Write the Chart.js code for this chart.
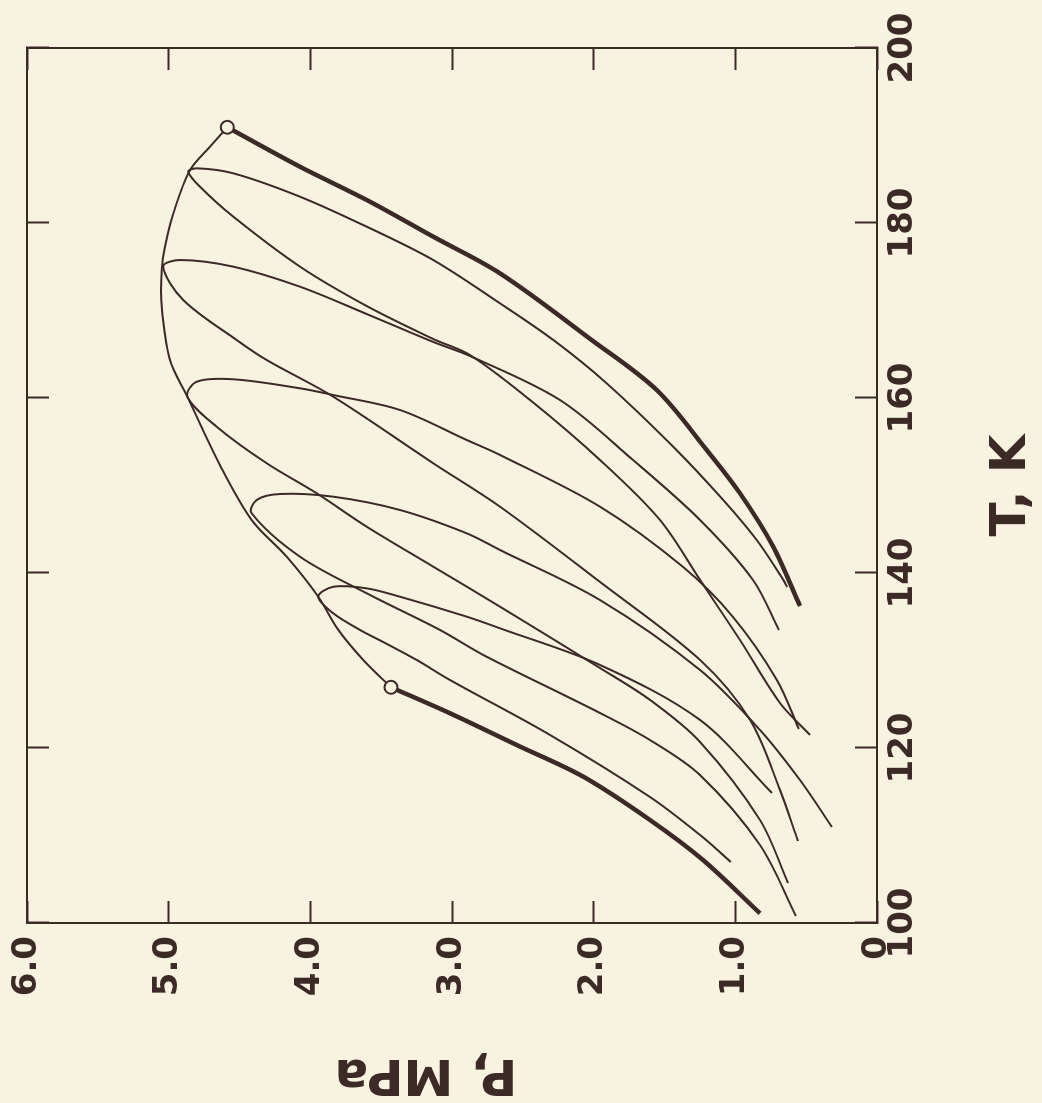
<!DOCTYPE html>
<html>
<head>
<meta charset="utf-8">
<script src="https://cdn.jsdelivr.net/npm/chart.js@4"></script>
<style>
  html, body { margin: 0; padding: 0; background: #f8f2e1; overflow: hidden; }
  /* the figure is printed turned a quarter turn, so the chart is drawn upright and rotated */
  #wrap { position: absolute; left: 0; top: 0; width: 1103px; height: 1042px;
          transform-origin: 0 0; transform: translateY(1103px) rotate(-90deg); }
</style>
</head>
<body>
<div id="wrap"><canvas id="chart" width="1103" height="1042"></canvas></div>
<script>
// [T (K), P (MPa)] pairs
const ch4Vapor = [[190.94, 4.586], [186.43, 4.073], [182.63, 3.602], [178.43, 3.132], [174.25, 2.661],
  [166.63, 2.014], [160.91, 1.555], [154.06, 1.202], [149.11, 0.967], [143.0, 0.732], [136.23, 0.544]]
const n2Vapor = [[126.94, 3.431], [123.97, 3.014], [120.34, 2.543], [116.72, 2.073], [111.77, 1.602],
  [107.2, 1.228], [101.11, 0.826]]
const criticalLocus = [[126.94, 3.431], [130.06, 3.626], [133.49, 3.802], [137.29, 3.944], [141.86, 4.167],
  [146.06, 4.414], [152.34, 4.638], [160.15, 4.868], [164.34, 4.991], [170.43, 5.049], [174.63, 5.049],
  [177.29, 5.026], [181.11, 4.967], [186.06, 4.849], [188.72, 4.708], [190.94, 4.586]]
const criticalPoints = [[190.94, 4.586], [126.94, 3.431]]

// each envelope: dew branch from its low end up to the nose, then bubble branch down
const envelope1 = [[138.4, 0.635], [139.2, 0.661], [143.77, 0.849], [148.34, 1.085], [154.43, 1.438],
  [161.68, 1.908], [166.63, 2.285], [170.82, 2.661], [175.77, 3.132], [179.58, 3.602], [183.01, 4.073],
  [185.68, 4.544], [186.25, 4.802], [185.86, 4.861],
  [184.15, 4.779], [180.72, 4.544], [175.01, 4.073], [170.51, 3.602], [166.74, 3.132], [164.91, 2.873],
  [159.77, 2.449], [152.91, 1.955], [146.06, 1.532], [139.2, 1.249], [132.34, 0.967], [125.14, 0.685],
  [121.49, 0.473]]
const envelope2 = [[133.49, 0.692], [139.2, 0.875], [146.06, 1.249], [152.91, 1.722], [159.77, 2.238],
  [164.8, 2.873], [166.4, 3.132], [169.6, 3.602], [172.72, 4.073], [175.01, 4.544], [175.77, 4.92],
  [175.01, 5.038],
  [171.2, 4.897], [166.63, 4.52], [164.34, 4.308], [160.15, 3.838], [152.54, 3.132], [147.58, 2.661],
  [138.97, 1.955], [130.06, 1.249], [123.2, 0.896], [115.2, 0.685], [109.37, 0.558]]
const envelope3 = [[122.17, 0.551], [127.77, 0.706], [134.97, 1.016], [140.69, 1.369], [147.58, 1.955],
  [153.49, 2.661], [155.2, 2.896], [158.63, 3.367], [160.34, 3.838], [161.11, 4.073], [162.14, 4.544],
  [161.86, 4.802], [160.15, 4.868],
  [156.72, 4.661], [152.54, 4.308], [149.11, 3.955], [145.29, 3.602], [140.72, 3.132], [136.15, 2.661],
  [129.14, 1.955], [125.49, 1.602], [120.69, 1.249], [111.77, 0.826], [104.57, 0.628]]
const envelope4 = [[110.97, 0.318], [116.34, 0.544], [122.06, 0.826], [128.91, 1.249], [136.91, 1.955],
  [142.63, 2.661], [144.54, 2.896], [147.2, 3.367], [148.72, 3.838], [149.03, 4.214], [148.34, 4.379],
  [146.82, 4.414],
  [141.86, 4.073], [137.68, 3.602], [133.49, 3.085], [130.63, 2.779], [124.0, 1.955], [120.91, 1.602],
  [116.91, 1.249], [108.91, 0.826], [100.8, 0.572]]
const envelope5 = [[114.86, 0.741], [123.2, 1.249], [129.49, 1.955], [133.68, 2.661], [135.01, 2.896],
  [137.29, 3.367], [138.25, 3.602], [138.43, 3.838], [137.29, 3.944],
  [135.39, 3.838], [133.49, 3.649], [132.11, 3.485], [130.06, 3.249], [127.77, 3.014], [121.49, 2.308],
  [114.4, 1.602], [110.06, 1.249], [106.97, 1.031]]

const tempTicks = [100, 120, 140, 160, 180, 200]
const pressTicks = [0, 1, 2, 3, 4, 5, 6]

const ink = "#3b2a26"
const paper = "#f8f2e1"
const tickFont = { family: "DejaVu Sans", weight: "bold", size: 34 }
const titleFont = { family: "DejaVu Sans", weight: "bold", size: 50 }

function toXY(pairs) {
  return pairs.map(([t, p]) => ({ x: t, y: p }))
}

function curve(pairs, width) {
  return {
    data: toXY(pairs),
    showLine: true,
    borderColor: ink,
    borderWidth: width,
    pointRadius: 0,
    tension: 0.33,
    fill: false,
  }
}

// frame ticks point inward, as on the printed figure
function frameGrid() {
  return { drawOnChartArea: false, drawTicks: true, tickLength: -22, tickWidth: 2, color: ink }
}
const frameBorder = { display: true, color: ink, width: 2 }

// fix the axis box sizes so the plot frame lands where it is on the figure
function fixBox(size) {
  return (s) => {
    if (s.isHorizontal()) s.height = size
    else s.width = size
    s.paddingTop = s.paddingBottom = s.paddingLeft = s.paddingRight = 0
  }
}

new Chart(document.getElementById("chart"), {
  type: "scatter",
  data: {
    datasets: [
      {
        data: toXY(criticalPoints),
        pointRadius: 6.5,
        pointBackgroundColor: paper,
        pointBorderColor: ink,
        pointBorderWidth: 2,
        showLine: false,
      },
      curve(ch4Vapor, 4.5),
      curve(n2Vapor, 4.5),
      curve(criticalLocus, 2),
      curve(envelope1, 2),
      curve(envelope2, 2),
      curve(envelope3, 2),
      curve(envelope4, 2),
      curve(envelope5, 2),
    ],
  },
  options: {
    responsive: false,
    devicePixelRatio: 1,
    animation: false,
    layout: { autoPadding: false, padding: { top: 27, right: 48, bottom: 0, left: 0 } },
    plugins: { legend: { display: false }, tooltip: { enabled: false } },
    scales: {
      x: {
        type: "linear",
        position: "bottom",
        min: tempTicks[0],
        max: tempTicks[tempTicks.length - 1],
        afterBuildTicks: (s) => { s.ticks = tempTicks.map((v) => ({ value: v })) },
        ticks: { color: ink, font: tickFont, padding: 28, maxRotation: 0 },
        grid: frameGrid(),
        border: frameBorder,
        title: { display: true, text: "T, K", color: ink, font: titleFont, padding: { top: 0, bottom: 0 } },
        afterFit: fixBox(165),
      },
      y: {
        type: "linear",
        position: "left",
        min: pressTicks[0],
        max: pressTicks[pressTicks.length - 1],
        afterBuildTicks: (s) => { s.ticks = pressTicks.map((v) => ({ value: v })) },
        ticks: {
          color: ink,
          font: tickFont,
          padding: 35,
          callback: (v) => (v === 0 ? "0" : v.toFixed(1)),
        },
        grid: frameGrid(),
        border: frameBorder,
        title: { display: true, text: "   P, MPa", color: ink, font: titleFont, padding: { top: 0, bottom: 0 } },
        afterFit: fixBox(180),
      },
      xTop: {
        type: "linear",
        position: "top",
        min: tempTicks[0],
        max: tempTicks[tempTicks.length - 1],
        afterBuildTicks: (s) => { s.ticks = tempTicks.map((v) => ({ value: v })) },
        ticks: { display: false },
        grid: frameGrid(),
        border: frameBorder,
        afterFit: fixBox(0),
      },
      yRight: {
        type: "linear",
        position: "right",
        min: pressTicks[0],
        max: pressTicks[pressTicks.length - 1],
        afterBuildTicks: (s) => { s.ticks = pressTicks.map((v) => ({ value: v })) },
        ticks: { display: false },
        grid: frameGrid(),
        border: frameBorder,
        afterFit: fixBox(0),
      },
    },
  },
})
</script>
</body>
</html>
